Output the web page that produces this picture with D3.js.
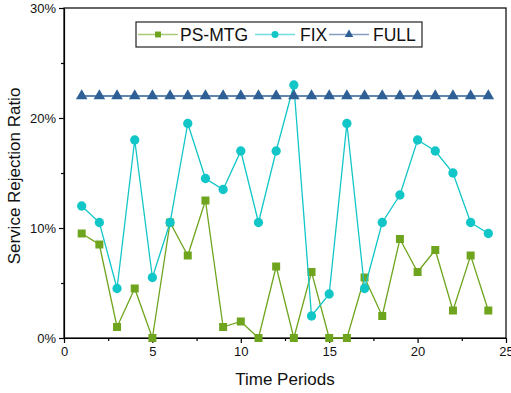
<!DOCTYPE html>
<html>
<head>
<meta charset="utf-8">
<script src="https://cdn.jsdelivr.net/npm/d3@7"></script>
<style>
	body { margin: 0; background: #fff; }
	text { font-family: Arial, "Liberation Sans", sans-serif; fill: #111; }
</style>
</head>
<body>
<div id="chart"></div>
<script>
const periods = d3.range(1, 25);
const psMtg = [9.5, 8.5, 1, 4.5, 0, 10.5, 7.5, 12.5, 1, 1.5, 0, 6.5, 0, 6, 0, 0, 5.5, 2, 9, 6, 8, 2.5, 7.5, 2.5];
const fix = [12, 10.5, 4.5, 18, 5.5, 10.5, 19.5, 14.5, 13.5, 17, 10.5, 17, 23, 2, 4, 19.5, 4.5, 10.5, 13, 18, 17, 15, 10.5, 9.5];
const full = [22, 22, 22, 22, 22, 22, 22, 22, 22, 22, 22, 22, 22, 22, 22, 22, 22, 22, 22, 22, 22, 22, 22, 22];
const xTicks = [0, 5, 10, 15, 20, 25];
const yTicks = [0, 10, 20, 30];

const margin = { top: 8, right: 5, bottom: 55, left: 64 },
	width = 511 - margin.left - margin.right,
	height = 393 - margin.top - margin.bottom;

const svg = d3.select('#chart')
	.append('svg')
	.attr('width', 511)
	.attr('height', 393)
	.append('g')
	.attr('transform', 'translate(' + margin.left + ',' + margin.top + ')');

const x = d3.scaleLinear().domain([0, 25]).range([0, width]);
const y = d3.scaleLinear().domain([0, 30]).range([height, 0]);

// frame
svg.append('rect')
	.attr('width', width)
	.attr('height', height)
	.attr('fill', 'none')
	.attr('stroke', '#000')
	.attr('stroke-width', 1.2);

// x axis with minor ticks
const gx = svg.append('g')
	.attr('transform', 'translate(0,' + height + ')');
gx.append('g')
	.call(d3.axisBottom(x).tickValues(d3.range(2.5, 25, 5)).tickSize(3).tickFormat(''))
	.call(g => g.select('.domain').remove());
gx.append('g')
	.call(d3.axisBottom(x).tickValues(xTicks).tickSize(5).tickSizeOuter(0).tickPadding(4))
	.call(g => g.selectAll('text').attr('font-size', 13).attr('fill', '#111'));
gx.selectAll('line, path').attr('stroke-width', 1.2);

// y axis with minor ticks
const gy = svg.append('g');
gy.append('g')
	.call(d3.axisLeft(y).tickValues([5, 15, 25]).tickSize(3).tickFormat(''))
	.call(g => g.select('.domain').remove());
gy.append('g')
	.call(d3.axisLeft(y).tickValues(yTicks).tickSize(5).tickSizeOuter(0).tickPadding(3).tickFormat(d => d + '%'))
	.call(g => g.selectAll('text').attr('font-size', 13).attr('fill', '#111'));
gy.selectAll('line, path').attr('stroke-width', 1.2);

// axis titles
svg.append('text')
	.attr('x', width / 2)
	.attr('y', height + 47)
	.attr('text-anchor', 'middle')
	.attr('font-size', 17)
	.text('Time Periods');
svg.append('text')
	.attr('transform', 'translate(' + (-44) + ',' + (height / 2 + 3) + ') rotate(-90)')
	.attr('text-anchor', 'middle')
	.attr('font-size', 17)
	.text('Service Rejection Ratio');

const series = [
	{ name: 'PS-MTG', values: psMtg, color: '#6fa51e', symbol: d3.symbolSquare, size: 64 },
	{ name: 'FIX', values: fix, color: '#12c6c8', symbol: d3.symbolCircle, size: 68 },
	{ name: 'FULL', values: full, color: '#2e5f95', symbol: d3.symbolTriangle, size: 58 }
];

const line = d3.line()
	.x((d, i) => x(periods[i]))
	.y(d => y(d));

series.forEach(s => {
	svg.append('path')
		.datum(s.values)
		.attr('fill', 'none')
		.attr('stroke', s.color)
		.attr('stroke-width', 1.3)
		.attr('d', line);
	svg.append('g')
		.selectAll('path')
		.data(s.values)
		.join('path')
		.attr('transform', (d, i) => 'translate(' + x(periods[i]) + ',' + y(d) + ')')
		.attr('d', d3.symbol().type(s.symbol).size(s.size))
		.attr('fill', s.color);
});

// legend
const legend = svg.append('g').attr('transform', 'translate(72,14)');
legend.append('rect')
	.attr('width', 286)
	.attr('height', 25)
	.attr('fill', '#fff')
	.attr('stroke', '#222')
	.attr('stroke-width', 1.2);
const legendX = [2, 119, 193];
const textX = [44, 164, 237];
series.forEach((s, i) => {
	legend.append('line')
		.attr('x1', legendX[i]).attr('x2', legendX[i] + 40)
		.attr('y1', 12.5).attr('y2', 12.5)
		.attr('stroke', s.color)
		.attr('stroke-opacity', 0.6)
		.attr('stroke-width', 1.5);
	legend.append('path')
		.attr('transform', 'translate(' + (legendX[i] + 20) + ',12.5)')
		.attr('d', d3.symbol().type(s.symbol).size(s.size * 0.55))
		.attr('fill', s.color);
	legend.append('text')
		.attr('x', textX[i])
		.attr('y', 19)
		.attr('font-size', 17.5)
		.text(s.name);
});
</script>
</body>
</html>
